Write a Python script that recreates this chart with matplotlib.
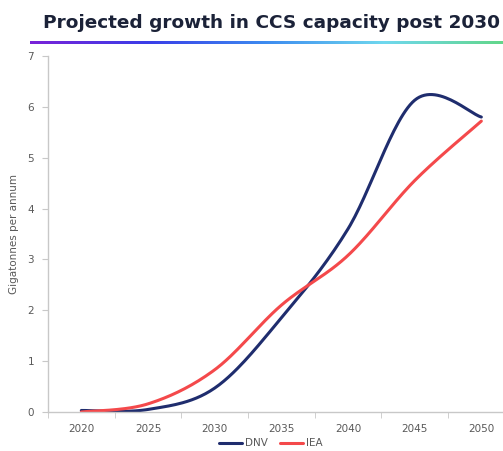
import numpy as np
import matplotlib.pyplot as plt
from matplotlib.colors import LinearSegmentedColormap

# Projected CCS capacity, gigatonnes per annum
years = [2020, 2025, 2030, 2035, 2040, 2045, 2050]
dnv = [0.03, 0.05, 0.47, 1.85, 3.6, 6.13, 5.8]
iea = [0.0, 0.16, 0.83, 2.1, 3.08, 4.55, 5.72]

NAVY = "#1f2d6e"
RED = "#f4494b"
GREY = "#c8c8c8"
TXT = "#595959"


def smooth(x, y, n=30):
    # Catmull-Rom style smoothing, same look as a spreadsheet "smoothed line"
    x = np.asarray(x, float)
    y = np.asarray(y, float)
    px = np.concatenate([[x[0]], x, [x[-1]]])
    py = np.concatenate([[y[0]], y, [y[-1]]])
    xs, ys = [], []
    t = np.linspace(0, 1, n)
    for i in range(1, len(px) - 2):
        p0, p1, p2, p3 = (np.array([px[j], py[j]]) for j in range(i - 1, i + 3))
        c1 = p1 + (p2 - p0) / 6
        c2 = p2 - (p3 - p1) / 6
        b = ((1 - t) ** 3)[:, None] * p1 + (3 * (1 - t) ** 2 * t)[:, None] * c1 \
            + (3 * (1 - t) * t ** 2)[:, None] * c2 + (t ** 3)[:, None] * p2
        xs.append(b[:, 0])
        ys.append(b[:, 1])
    return np.concatenate(xs), np.concatenate(ys)


fig = plt.figure(figsize=(5.03, 4.51), dpi=100)
ax = fig.add_axes([48 / 503, 39 / 451, 1 - 48 / 503, 356 / 451])

for vals, col, name in [(dnv, NAVY, "DNV"), (iea, RED, "IEA")]:
    sx, sy = smooth(years, vals)
    ax.plot(sx, sy, color=col, lw=2.2, label=name, solid_capstyle="round")

ax.set_xlim(2017.5, 2017.5 + 455 / (400 / 30))
ax.set_ylim(0, 7)
ax.set_xticks(years)
ax.set_xticks(np.arange(2017.5, 2051, 5), minor=True)
ax.tick_params(axis="x", which="major", length=0, pad=9, labelsize=7.5, labelcolor=TXT)
ax.tick_params(axis="x", which="minor", length=4, color=GREY, direction="out")
ax.set_yticks(range(8))
ax.tick_params(axis="y", length=4, color=GREY, labelsize=7.5, labelcolor=TXT, pad=6)
for s in ["top", "right"]:
    ax.spines[s].set_visible(False)
for s in ["left", "bottom"]:
    ax.spines[s].set_color(GREY)
    ax.spines[s].set_linewidth(1.0)
ax.set_ylabel("Gigatonnes per annum", fontsize=7.5, color=TXT, labelpad=6)

leg = ax.legend(loc="center", bbox_to_anchor=(0.49, -0.088), ncol=2, frameon=False,
                fontsize=7.5, handlelength=2.2, columnspacing=1.2, handletextpad=0.3,
                borderpad=0.1)
for t in leg.get_texts():
    t.set_color(TXT)

# title and gradient rule beneath it
fig.text(0.539, 0.948, "Projected growth in CCS capacity post 2030", ha="center", va="center",
         fontsize=13.3, fontweight="bold", color="#1b2238")
grad = LinearSegmentedColormap.from_list("rule", ["#7a22d8", "#3a3ee8", "#3d8cf0", "#6fd8ee", "#62d68a"])
rax = fig.add_axes([30 / 503, 1 - 44 / 451, 1 - 30 / 503, 3 / 451])
rax.imshow(np.linspace(0, 1, 256)[None, :], aspect="auto", cmap=grad)
rax.axis("off")

fig.savefig("out.png", dpi=100)
